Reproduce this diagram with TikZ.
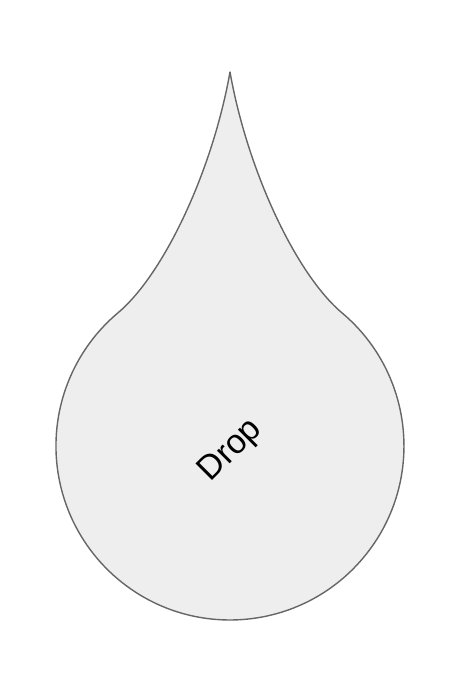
\documentclass[tikz,border=0pt]{standalone}
\usepackage{fontspec}
\setmainfont{Liberation Sans}
\definecolor{dropfill}{HTML}{EEEEEE}
\definecolor{dropline}{HTML}{666666}
\tikzset{
  dropshape/.style={draw=dropline, fill=dropfill, line width=1.4pt, line join=round},
  droplabel/.style={font=\fontsize{34}{40}\selectfont, text=black, rotate=45, inner sep=0pt}
}
\begin{document}
\begin{tikzpicture}[x=1pt,y=1pt]
  \useasboundingbox (0,0) rectangle (458,690);
  \fill[white] (0,0) rectangle (458,690);
  \coordinate (tip) at (230,618);
  \coordinate (rj) at (341.8,377.3);
  \coordinate (lj) at (118.2,377.3);
  \path[dropshape] (tip) .. controls (247.4,519.5) and (296,416) .. (rj)
    arc[start angle=50, end angle=-230, radius=174pt]
    .. controls (164,416) and (212.6,519.5) .. (tip) -- cycle;
  \node[droplabel] (label) at (231,239) {Drop};
\end{tikzpicture}
\end{document}
